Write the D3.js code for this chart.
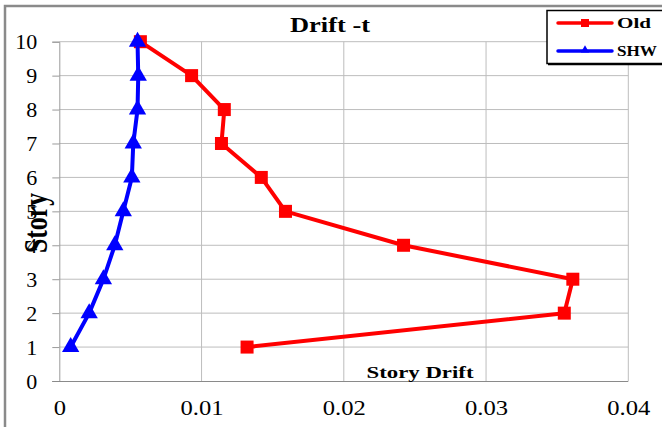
<!DOCTYPE html>
<html>
<head>
<meta charset="utf-8">
<script src="https://cdn.jsdelivr.net/npm/d3@7"></script>
<style>
html,body{margin:0;padding:0;background:#fff;}
svg{display:block;}
text{font-family:"Liberation Serif","Times New Roman",serif;fill:#000;}
</style>
</head>
<body>
<svg id="chart" width="662" height="427"></svg>
<script>
const stories = [1, 2, 3, 4, 5, 6, 7, 8, 9, 10];
const oldDrift = [0.0132, 0.0355, 0.0361, 0.0242, 0.0159, 0.0142, 0.0114, 0.0116, 0.0093, 0.0057];
const shwDrift = [0.0008, 0.0021, 0.0031, 0.0039, 0.0045, 0.0051, 0.0052, 0.0055, 0.00555, 0.0055];
const xTicks = [0, 0.01, 0.02, 0.03, 0.04];
const xTickLabels = ["0", "0.01", "0.02", "0.03", "0.04"];
const yTicks = [0, 1, 2, 3, 4, 5, 6, 7, 8, 9, 10];
const seriesNames = ["Old", "SHW"];
const seriesColors = ["#ff0000", "#0000ff"];
const titleText = "Drift  -t";
const xTitle = "Story Drift";
const yTitle = "Story";

const svg = d3.select("#chart");
const x = d3.scaleLinear().domain([0, 0.04]).range([59.3, 628.3]);
const y = d3.scaleLinear().domain([0, 10]).range([381, 41.7]);

// outer frame (cropped)
svg.append("path").attr("d", "M5,430 V6 H670").attr("fill", "none")
  .attr("stroke", "#8a8a8a").attr("stroke-width", 2.5);

// gridlines
svg.append("g").selectAll("line").data(yTicks.filter(d => d > 0)).join("line")
  .attr("x1", x(0)).attr("x2", x(0.04)).attr("y1", d => y(d)).attr("y2", d => y(d))
  .attr("stroke", "#bdbdbd").attr("stroke-width", 1);
svg.append("g").selectAll("line").data(xTicks.filter(d => d > 0)).join("line")
  .attr("x1", d => x(d)).attr("x2", d => x(d)).attr("y1", y(0)).attr("y2", y(10))
  .attr("stroke", "#bdbdbd").attr("stroke-width", 1);

// y axis
const yAxis = d3.axisLeft(y).tickValues(yTicks).tickSize(7).tickPadding(15).tickFormat(d3.format("d"));
const yg = svg.append("g").attr("transform", `translate(${x(0)},0)`).call(yAxis);
yg.select(".domain").attr("stroke", "#9a9a9a");
yg.selectAll(".tick line").attr("stroke", "#9a9a9a");
yg.selectAll(".tick text").attr("font-size", 22).attr("fill", "#000");

// x axis
const xAxis = d3.axisBottom(x).tickValues(xTicks).tickSize(0).tickPadding(18)
  .tickFormat((d, i) => xTickLabels[i]);
const xg = svg.append("g").attr("transform", `translate(0,${y(0)})`).call(xAxis);
xg.select(".domain").attr("stroke", "#8a8a8a").attr("d", `M${x(0) - 7},0.5H${x(0.04)}`);
xg.selectAll(".tick text").attr("font-size", 22).attr("fill", "#000")
  .attr("transform", "scale(1.12,1)");

// title
svg.append("text").attr("x", 330).attr("y", 32).attr("text-anchor", "middle")
  .attr("font-size", 22).attr("font-weight", "bold")
  .attr("textLength", 80).attr("lengthAdjust", "spacingAndGlyphs").text(titleText);

// axis titles
svg.append("text").attr("x", 420).attr("y", 378).attr("text-anchor", "middle")
  .attr("font-size", 16).attr("font-weight", "bold")
  .attr("textLength", 107).attr("lengthAdjust", "spacingAndGlyphs").text(xTitle);
svg.append("text").attr("transform", "translate(47,223) rotate(-90)").attr("text-anchor", "middle")
  .attr("font-size", 34).attr("font-weight", "bold")
  .attr("textLength", 60).attr("lengthAdjust", "spacingAndGlyphs").text(yTitle);

// series
const line = d3.line().x(d => x(d[0])).y(d => y(d[1]));
const oldPts = stories.map((s, i) => [oldDrift[i], s]);
const shwPts = stories.map((s, i) => [shwDrift[i], s]);

svg.append("path").datum(oldPts).attr("d", line).attr("fill", "none")
  .attr("stroke", seriesColors[0]).attr("stroke-width", 4).attr("stroke-linejoin", "round");
svg.append("g").selectAll("rect").data(oldPts).join("rect")
  .attr("x", d => x(d[0]) - 6.5).attr("y", d => y(d[1]) - 6.5)
  .attr("width", 13).attr("height", 13).attr("fill", seriesColors[0]);

svg.append("path").datum(shwPts).attr("d", line).attr("fill", "none")
  .attr("stroke", seriesColors[1]).attr("stroke-width", 4).attr("stroke-linejoin", "round");
const tri = d3.symbol().type(d3.symbolTriangle).size(130);
svg.append("g").selectAll("path").data(shwPts).join("path")
  .attr("transform", d => `translate(${x(d[0])},${y(d[1])})`)
  .attr("d", tri).attr("fill", seriesColors[1]);

// legend
const lg = svg.append("g");
lg.append("rect").attr("x", 547).attr("y", 10.5).attr("width", 130).attr("height", 53)
  .attr("fill", "#fff").attr("stroke", "#000").attr("stroke-width", 1.5);
lg.append("line").attr("x1", 548).attr("x2", 680).attr("y1", 64.5).attr("y2", 64.5)
  .attr("stroke", "#000").attr("stroke-width", 1.5);
const legY = [23, 51];
const legW = [34, 40];
seriesNames.forEach((n, i) => {
  lg.append("line").attr("x1", 558).attr("x2", 612).attr("y1", legY[i]).attr("y2", legY[i])
    .attr("stroke", seriesColors[i]).attr("stroke-width", 3.5).attr("stroke-linecap", "round");
  if (i === 0) {
    lg.append("rect").attr("x", 581).attr("y", legY[i] - 4).attr("width", 8).attr("height", 8)
      .attr("fill", seriesColors[i]);
  } else {
    lg.append("path").attr("transform", `translate(585,${legY[i] - 1})`)
      .attr("d", d3.symbol().type(d3.symbolTriangle).size(30)).attr("fill", seriesColors[i]);
  }
  lg.append("text").attr("x", 617).attr("y", legY[i] + 4.5).attr("font-size", 14)
    .attr("font-weight", "bold").attr("textLength", legW[i]).attr("lengthAdjust", "spacingAndGlyphs")
    .text(n);
});
</script>
</body>
</html>
